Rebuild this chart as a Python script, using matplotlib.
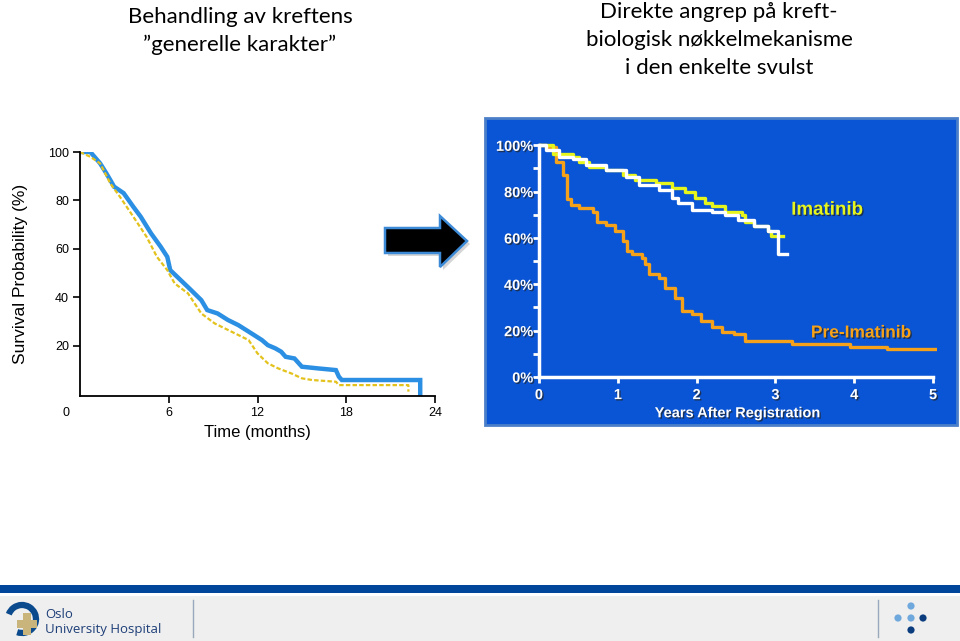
import matplotlib
matplotlib.use("Agg")
import matplotlib.pyplot as plt
import matplotlib.patches as mpatches
import matplotlib.patheffects as pe

# left chart (months, survival %), vertices
blue_t = [0, 0.7, 1.36, 1.8, 2.05, 2.3, 2.95, 3.6, 4.1, 4.8, 5.45, 5.9, 6.1, 6.8, 7.5, 8.2, 8.6,
          9.3, 10.0, 10.7, 11.4, 12.3, 12.7, 13.2, 13.6, 13.9, 14.5, 15.0, 16.1, 17.3, 17.5, 17.7,
          23.0, 23.0]
blue_s = [100, 100, 95.3, 91, 88.4, 85.7, 83, 77.4, 73.3, 66.4, 60.9, 56.7, 51.2, 47.1, 43, 38.8, 34.7,
          33.3, 30.6, 28.5, 25.8, 22.3, 20.2, 18.9, 17.5, 15.4, 14.7, 11.3, 10.6, 9.9, 7.2, 5.8,
          5.8, 0]
yel_t = [0, 0.7, 1.36, 2.05, 2.7, 3.6, 4.5, 5.2, 5.9, 6.4, 7.3, 8.2, 9.1, 10.5, 11.4, 12.0,
         12.7, 13.4, 14.3, 15.0, 15.7, 17.3, 17.5, 22.2, 22.2]
yel_s = [100, 98, 95.3, 87, 81.5, 73.3, 65, 56.7, 51.2, 45.7, 41.6, 33.3, 29.2, 25, 22.3, 16.8,
         12.7, 10.6, 8.5, 6.5, 5.8, 5.1, 3.7, 3.7, 1.0]
left_xticks = [6, 12, 18, 24]
left_yticks = [20, 40, 60, 80, 100]

# right chart (years, survival %)
pre_t = [0, 0.09, 0.22, 0.3, 0.36, 0.41, 0.51, 0.68, 0.74, 0.85, 0.97, 1.06, 1.12, 1.18, 1.31, 1.35,
         1.39, 1.52, 1.6, 1.73, 1.81, 1.94, 2.06, 2.19, 2.32, 2.48, 2.61, 3.21, 3.95, 4.41, 5.02]
pre_s = [100, 99.3, 92.9, 87, 77, 74.3, 72.9, 71.4, 67.1, 65.7, 62.9, 58.6, 54.3, 52.9, 51.4, 48.6,
         44.3, 42.9, 38.6, 34.3, 28.6, 27.1, 24.3, 21.4, 19.3, 18.6, 15.7, 14.3, 12.9, 11.9, 11.9]
ima_t = [0, 0.18, 0.43, 0.51, 0.64, 0.85, 1.06, 1.22, 1.48, 1.69, 1.85, 1.98, 2.1, 2.19, 2.36,
         2.57, 2.61, 2.73, 2.9, 2.94, 3.09]
ima_s = [100, 96.4, 95, 92.9, 90.7, 89.3, 87.1, 85, 83.6, 81.4, 80, 77.1, 75, 73.6, 71.4,
         70, 67.1, 65, 62.9, 60.7, 60.7]
wht_t = [0, 0.09, 0.26, 0.43, 0.6, 0.85, 1.1, 1.27, 1.52, 1.69, 1.77, 1.94, 2.19, 2.36, 2.53,
         2.73, 2.9, 3.03, 3.15]
wht_s = [100, 97.9, 95, 94.3, 91.4, 89.3, 86.4, 82.9, 80.7, 77.1, 75, 72.1, 71.4, 70, 67.9,
         65, 62.9, 52.9, 52.9]
right_xticks = [0, 1, 2, 3, 4, 5]
right_yticks = [0, 20, 40, 60, 80, 100]
right_ylabels = ["0%", "20%", "40%", "60%", "80%", "100%"]

W, H = 960, 641


def box(x0, y0, x1, y1):
    return [x0 / W, 1 - y1 / H, (x1 - x0) / W, (y1 - y0) / H]


fig = plt.figure(figsize=(9.6, 6.41), dpi=100)
fig.patch.set_facecolor("white")

# background layer in pixel coordinates
bg = fig.add_axes([0, 0, 1, 1], zorder=0)
bg.set_xlim(0, W)
bg.set_ylim(H, 0)
bg.axis("off")

title_font = ["Lato", "DejaVu Sans"]
bg.text(240, 17, "Behandling av kreftens", ha="center", va="center", fontsize=16, family=title_font)
bg.text(240, 45, "\u201dgenerelle karakter\u201d", ha="center", va="center", fontsize=16, family=title_font)
for y, line in zip([12, 40, 68], ["Direkte angrep på kreft-", "biologisk nøkkelmekanisme",
                                   "i den enkelte svulst"]):
    bg.text(719, y, line, ha="center", va="center", fontsize=16, family=title_font)

# arrow
arrow_pts = [(385, 228), (440, 228), (440, 216), (467, 241), (440, 267), (440, 253), (385, 253)]
shadow = [(x + 3, y + 3) for x, y in arrow_pts]
bg.add_patch(mpatches.Polygon(shadow, closed=True, facecolor="#888888", alpha=0.35, edgecolor="none"))
bg.add_patch(mpatches.Polygon(arrow_pts, closed=True, facecolor="black", edgecolor="#3d8bd6", lw=1.8))

# blue panel behind right chart
bg.add_patch(mpatches.Rectangle((485, 118), 472, 307, facecolor="#0a55d5", edgecolor="#4b7fc8", lw=2))

# footer
bg.add_patch(mpatches.Rectangle((0, 585), W, 8, facecolor="#00479b", edgecolor="none"))
bg.add_patch(mpatches.Rectangle((0, 596), W, 45, facecolor="#efefef", edgecolor="none"))
bg.plot([193, 193], [600, 637], color="#9aa8bb", lw=1)
bg.plot([878, 878], [600, 637], color="#9aa8bb", lw=1)
bg.add_patch(mpatches.Arc((22, 619), 28, 28, theta1=200, theta2=110, color="#0b4a8c", lw=4.5))
bg.add_patch(mpatches.Rectangle((17, 620), 20, 8, facecolor="#c9b47c", edgecolor="none"))
bg.add_patch(mpatches.Rectangle((23, 613), 8, 22, facecolor="#c9b47c", edgecolor="none"))
bg.text(45, 615, "Oslo", ha="left", va="center", fontsize=9.5, color="#1e3f78", family="Open Sans")
bg.text(45, 629, "University Hospital", ha="left", va="center", fontsize=9.5, color="#1e3f78",
        family="Open Sans")
for (cx, cy, c) in [(911, 606, "#6fa8dc"), (898, 618, "#6fa8dc"), (911, 618, "#6fa8dc"),
                    (923, 618, "#0b3d7e"), (911, 630, "#0b3d7e")]:
    bg.add_patch(mpatches.Circle((cx, cy), 3.6, facecolor=c, edgecolor="none"))

# ---- left chart ----
ax1 = fig.add_axes(box(80, 152, 435, 396), zorder=1)
ax1.patch.set_alpha(0)
ax1.plot(blue_t, blue_s, color="#2b8fe3", lw=3.2, solid_joinstyle="miter")
ax1.plot(yel_t, yel_s, color="#e3c21c", lw=1.6, ls=(0, (2, 1)))
ax1.set_xlim(0, 24)
ax1.set_ylim(-0.8, 100)
ax1.spines[["top", "right"]].set_visible(False)
ax1.spines["left"].set_bounds(-0.8, 100)
for s in ax1.spines.values():
    s.set_linewidth(1.3)
ax1.set_xticks(left_xticks)
ax1.set_yticks(left_yticks)
ax1.tick_params(length=5, width=1.2, labelsize=9, pad=3)
for lab in ax1.get_xticklabels() + ax1.get_yticklabels():
    lab.set_family("Liberation Sans")
ax1.text(-0.95, -5.5, "0", ha="center", va="top", fontsize=9, family="Liberation Sans")
ax1.set_xlabel("Time (months)", fontsize=12, family="Liberation Sans", labelpad=4)
ax1.set_ylabel("Survival Probability (%)", fontsize=12.5, family="Liberation Sans", labelpad=14)

# ---- right chart ----
shadow_fx = [pe.SimplePatchShadow(offset=(1, -1), shadow_rgbFace="#222222", alpha=0.7), pe.Normal()]
ax2 = fig.add_axes(box(539, 143, 937, 377), zorder=1)
ax2.patch.set_alpha(0)
ax2.step(pre_t, pre_s, where="post", color="#f5a21a", lw=2.4)
ax2.step(ima_t, ima_s, where="post", color="#e6f51c", lw=2.4)
ax2.step(wht_t, wht_s, where="post", color="white", lw=2.4)
ax2.set_xlim(0, 5.05)
ax2.set_ylim(0, 101)
ax2.spines[["top", "right"]].set_visible(False)
ax2.spines["bottom"].set_bounds(0, 5)
ax2.spines["left"].set_bounds(0, 100)
for s in ["left", "bottom"]:
    ax2.spines[s].set_color("white")
    ax2.spines[s].set_linewidth(2.5)
ax2.set_xticks(right_xticks)
ax2.set_yticks(right_yticks)
ax2.set_yticklabels(right_ylabels)
ax2.set_yticks([10, 30, 50, 70, 90], minor=True)
ax2.tick_params(which="both", colors="white", length=4, width=2)
ax2.tick_params(axis="y", pad=0)
ax2.tick_params(axis="x", pad=4)
for lab in ax2.get_xticklabels() + ax2.get_yticklabels():
    lab.set_fontweight("bold")
    lab.set_fontsize(10.5)
    lab.set_family("Liberation Sans")
    lab.set_color("white")
    lab.set_path_effects(shadow_fx)
ax2.set_xlabel("Years After Registration", fontsize=10.5, fontweight="bold", color="white",
               family="Liberation Sans", labelpad=3, path_effects=shadow_fx)
ax2.text(3.2, 72, "Imatinib", color="#e6f51c", fontsize=13.5, fontweight="bold",
         family="Liberation Sans", va="center", path_effects=shadow_fx)
ax2.text(3.45, 19, "Pre-Imatinib", color="#f5a21a", fontsize=12.5, fontweight="bold",
         family="Liberation Sans", va="center", path_effects=shadow_fx)

fig.savefig("out.png", dpi=100)
